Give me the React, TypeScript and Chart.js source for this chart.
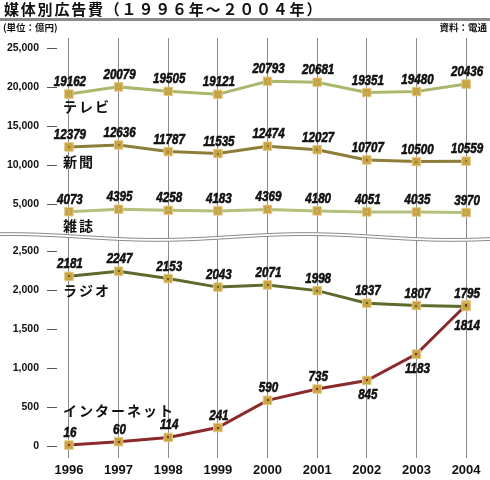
import React, { useEffect, useRef } from "react";
import { Chart, registerables } from "chart.js";

Chart.register(...registerables);

// ---- data ----
const years = [1996, 1997, 1998, 1999, 2000, 2001, 2002, 2003, 2004];
const tv = [19162, 20079, 19505, 19121, 20793, 20681, 19351, 19480, 20436];
const newspaper = [12379, 12636, 11787, 11535, 12474, 12027, 10707, 10500, 10559];
const magazine = [4073, 4395, 4258, 4183, 4369, 4180, 4051, 4035, 3970];
const radio = [2181, 2247, 2153, 2043, 2071, 1998, 1837, 1807, 1795];
const internet = [16, 60, 114, 241, 590, 735, 845, 1183, 1814];
const seriesNames = ["テレビ", "新聞", "雑誌", "ラジオ", "インターネット"];
const upperTicks = [5000, 10000, 15000, 20000, 25000];
const lowerTicks = [0, 500, 1000, 1500, 2000, 2500];

const TITLE = "媒体別広告費（１９９６年～２００４年）";
const UNIT = "(単位：億円)";
const SOURCE = "資料：電通";

// ---- styling ----
const colors = ["#a9b86c", "#8c7d3a", "#b3c07c", "#5e6a2c", "#8b2a2a"];
const numFont = '"Liberation Sans", Arial, sans-serif';
const jpFont = '"Noto Sans CJK JP", "Noto Sans", sans-serif';
// label placement: 0 = above, 1 = below, 2 = further below
const placement = [
  [0, 0, 0, 0, 0, 0, 0, 0, 0],
  [0, 0, 0, 0, 0, 0, 0, 0, 0],
  [0, 0, 0, 0, 0, 0, 0, 0, 0],
  [0, 0, 0, 0, 0, 0, 0, 0, 0],
  [0, 0, 0, 0, 0, 0, 1, 1, 2],
];
const nameOffsets = [13, 15, 14, 14, -34];

function narrowText(ctx: CanvasRenderingContext2D, text: string, x: number, y: number) {
  ctx.save();
  ctx.translate(x, y);
  ctx.scale(0.8, 1);
  ctx.fillText(text, 0, 0);
  ctx.lineWidth = 0.6;
  ctx.strokeStyle = ctx.fillStyle as string;
  ctx.strokeText(text, 0, 0);
  ctx.restore();
}

const overlayPlugin = {
  id: "overlay",
  afterDatasetsDraw(chart: any) {
    const ctx = chart.ctx as CanvasRenderingContext2D;
    ctx.save();
    chart.data.datasets.forEach((ds: any, di: number) => {
      const meta = chart.getDatasetMeta(di);
      meta.data.forEach((pt: any, i: number) => {
        ctx.fillStyle = ds.borderColor;
        ctx.fillRect(Math.round(pt.x) - 1, Math.round(pt.y) - 1, 2, 2);
        const pl = placement[di][i];
        const y = pl === 0 ? pt.y - 8 : pl === 1 ? pt.y + 19 : pt.y + 25;
        ctx.fillStyle = "#111";
        ctx.font = `italic bold 14.5px ${numFont}`;
        ctx.textAlign = "center";
        ctx.textBaseline = "alphabetic";
        narrowText(ctx, String(ds.data[i].y), pt.x + 1, y);
      });
      const p0 = meta.data[0];
      ctx.font = `bold 14px ${jpFont}`;
      ctx.textAlign = "left";
      ctx.textBaseline = "middle";
      ctx.fillStyle = "#111";
      const name = seriesNames[di];
      for (let k = 0; k < name.length; k++) {
        ctx.fillText(name[k], p0.x - 6 + k * 16, p0.y + nameOffsets[di]);
      }
    });
    ctx.restore();
  },
  afterDraw(chart: any) {
    const ctx = chart.ctx as CanvasRenderingContext2D;
    const yb = chart.scales.yTop.bottom;
    const W = chart.width;
    const c = (x: number) => yb + 1 - 2.9 * Math.cos((2 * Math.PI * (x - 10)) / 295);
    ctx.save();
    ctx.beginPath();
    for (let x = 0; x <= W; x++) ctx.lineTo(x, c(x) - 1.6);
    for (let x = W; x >= 0; x--) ctx.lineTo(x, c(x) + 1.6);
    ctx.closePath();
    ctx.fillStyle = "#fff";
    ctx.fill();
    ctx.strokeStyle = "#8a8a8a";
    ctx.lineWidth = 1;
    for (const off of [-1.4, 1.4]) {
      ctx.beginPath();
      for (let x = 0; x <= W; x++) ctx.lineTo(x, c(x) + off);
      ctx.stroke();
    }
    ctx.restore();
  },
};

function makeDataset(label: string, values: number[], idx: number, axis: string) {
  return {
    label,
    data: values.map((v, i) => ({ x: years[i], y: v })),
    yAxisID: axis,
    borderColor: colors[idx],
    borderWidth: 3,
    pointStyle: "rect",
    pointRadius: 6,
    pointBackgroundColor: "#c9a241",
    pointBorderColor: "#e2c987",
    pointBorderWidth: 1,
    tension: 0,
  };
}

const yCommon = (ticks: number[]) => ({
  type: "linear",
  position: "left",
  stack: "main",
  border: { display: false },
  grid: { drawOnChartArea: false, tickLength: 10, color: "#555", lineWidth: 1 },
  ticks: {
    font: { family: numFont, size: 10.5, weight: "bold" },
    color: "#111",
    padding: 8,
    callback: (v: any) => Number(v).toLocaleString("en-US"),
  },
  afterBuildTicks: (scale: any) => {
    scale.ticks = ticks.map((v) => ({ value: v }));
  },
  afterFit: (scale: any) => {
    scale.width = 50;
  },
});

export default function App() {
  const ref = useRef<HTMLCanvasElement>(null);
  useEffect(() => {
    if (!ref.current) return;
    const chart = new Chart(ref.current, {
      type: "line",
      data: {
        datasets: [
          makeDataset(seriesNames[0], tv, 0, "yTop"),
          makeDataset(seriesNames[1], newspaper, 1, "yTop"),
          makeDataset(seriesNames[2], magazine, 2, "yTop"),
          makeDataset(seriesNames[3], radio, 3, "yBot"),
          makeDataset(seriesNames[4], internet, 4, "yBot"),
        ] as any,
      },
      options: {
        responsive: false,
        animation: false,
        devicePixelRatio: 1,
        events: [],
        layout: { padding: { top: 38, left: 7, right: 10, bottom: 0 } },
        plugins: { legend: { display: false }, tooltip: { enabled: false } },
        scales: {
          x: {
            type: "linear",
            min: 1995.76,
            max: 2004.28,
            border: { display: false },
            grid: { color: "#8c8c8c", lineWidth: 1, drawTicks: false, borderDash: [5, 4] } as any,
            ticks: {
              stepSize: 1,
              includeBounds: false,
              autoSkip: false,
              maxRotation: 0,
              padding: 5,
              color: "#111",
              font: { family: numFont, size: 13, weight: "bold" },
              callback: (v: any) => String(v),
            },
            afterBuildTicks: (scale: any) => {
              scale.ticks = years.map((v) => ({ value: v }));
            },
            afterFit: (scale: any) => {
              scale.height = 22;
            },
          } as any,
          yTop: { ...yCommon(upperTicks), min: 962, max: 26346, stackWeight: 198, weight: 2 } as any,
          yBot: { ...yCommon(lowerTicks), min: -150, max: 2699, stackWeight: 222, weight: 1 } as any,
        },
      },
      plugins: [overlayPlugin],
    });
    return () => chart.destroy();
  }, []);

  return (
    <div style={{ position: "absolute", left: 0, top: 0, width: 490, height: 480, background: "#fff", overflow: "hidden" }}>
      <canvas ref={ref} width={490} height={480} style={{ position: "absolute", left: 0, top: 0, width: 490, height: 480 }} />
      <div style={{ position: "absolute", left: 4, top: 0, font: `bold 15px ${jpFont}`, letterSpacing: "1.8px", lineHeight: "18px", color: "#111", whiteSpace: "nowrap" }}>{TITLE}</div>
      <div style={{ position: "absolute", left: 0, top: 18, width: 490, height: 3, background: "#8a8a8a" }} />
      <div style={{ position: "absolute", left: 3, top: 22, font: `bold 9.5px ${jpFont}`, lineHeight: "11px", color: "#111", whiteSpace: "nowrap" }}>{UNIT}</div>
      <div style={{ position: "absolute", right: 3, top: 22, font: `bold 9.5px ${jpFont}`, lineHeight: "11px", color: "#111", whiteSpace: "nowrap" }}>{SOURCE}</div>
    </div>
  );
}
